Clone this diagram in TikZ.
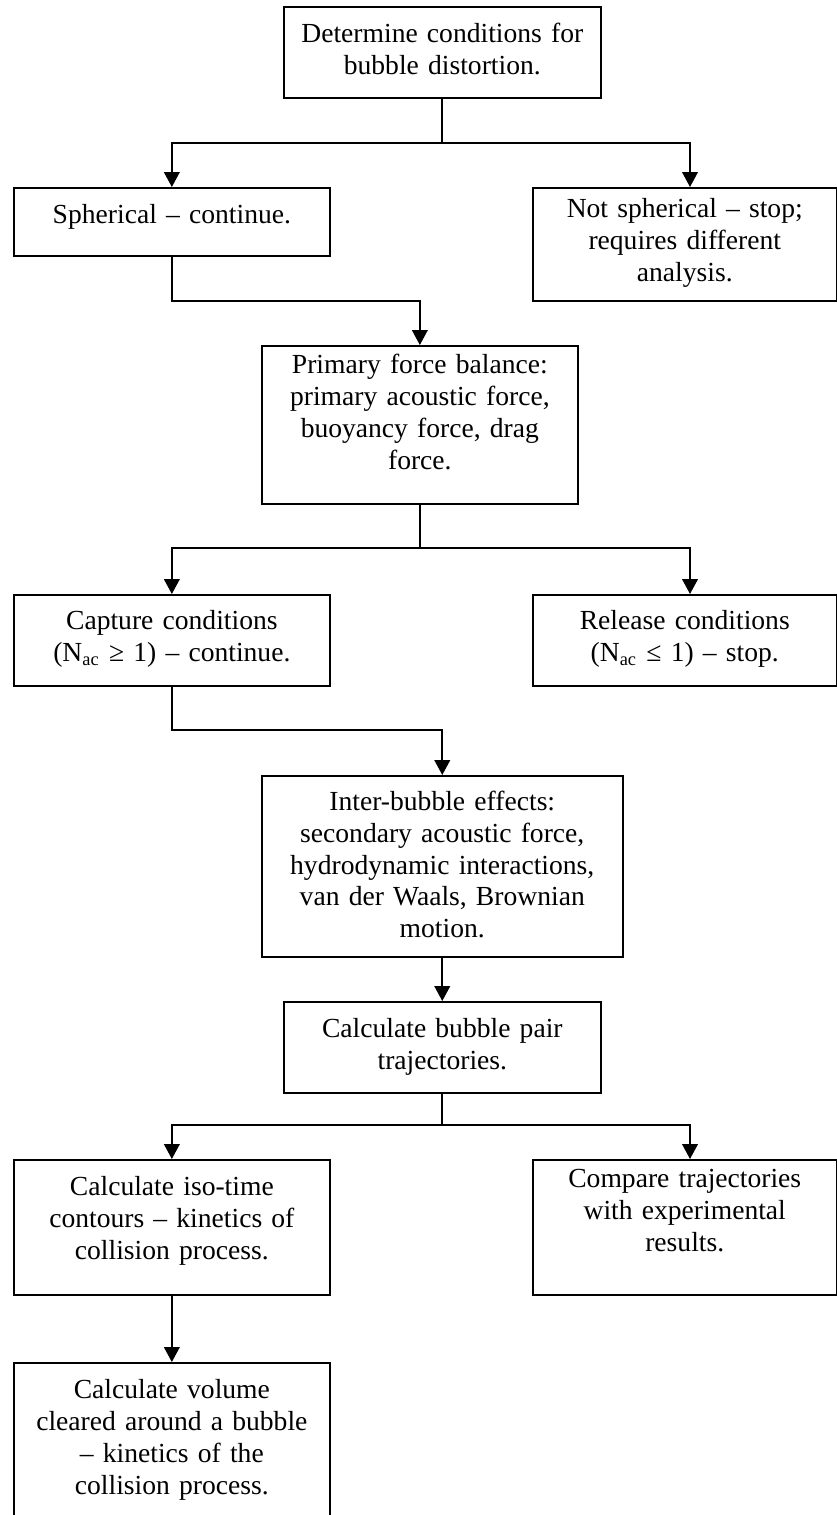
\documentclass[tikz,border=0pt,12pt]{standalone}
\usepackage{fontspec}
\setmainfont{Liberation Serif}
\usetikzlibrary{arrows.meta}

\begin{document}
\begin{tikzpicture}[
			x=0.435pt,
			y=-0.435pt,
			box/.style n args={3}{
				draw,
				line width=0.7pt,
				anchor=north west,
				inner xsep=4pt,
				inner ysep=0pt,
				align=center,
				font=\fontsize{12}{13.8}\selectfont,
				text width=#1,
				text height=#2,
				text depth=#3
			},
			link/.style={
				draw,
				line width=0.8pt
			},
			flow/.style={
				link,
				-{Triangle[length=6.5pt, width=6.8pt]}
			}
			]
			\useasboundingbox (0,0) rectangle (837,1515);
			\clip (0,0) rectangle (837,1515);
			
			% Boxes
			\node[box={129.9pt}{15.7pt}{23.9pt}] (distort) at (283,6) {Determine conditions for\\bubble distortion.};
			\node[box={129.5pt}{15.7pt}{13.9pt}] (sphere) at (13,187) {Spherical -- continue.};
			\node[box={124.2pt}{13.1pt}{36.1pt}] (nosphere) at (532,187) {Not spherical -- stop;\\requires different\\analysis.};
			\node[box={129.5pt}{12.2pt}{56.5pt}] (primary) at (261,345) {Primary force balance:\\primary acoustic force,\\buoyancy force, drag\\force.};
			\node[box={129.5pt}{15.2pt}{24.4pt}] (capture) at (13,594) {Capture conditions\\(N\textsubscript{ac} ≥ 1) -- continue.};
			\node[box={124.2pt}{15.2pt}{24.4pt}] (release) at (532,594) {Release conditions\\(N\textsubscript{ac} ≤ 1) -- stop.};
			\node[box={149.0pt}{15.2pt}{63.5pt}] (inter) at (261,775) {Inter-bubble effects:\\secondary acoustic force,\\hydrodynamic interactions,\\van der Waals, Brownian\\motion.};
			\node[box={129.9pt}{15.7pt}{23.9pt}] (traj) at (283,1001) {Calculate bubble pair\\trajectories.};
			\node[box={129.5pt}{15.7pt}{43.0pt}] (isotime) at (13,1159) {Calculate iso-time\\contours -- kinetics of\\collision process.};
			\node[box={124.2pt}{12.2pt}{46.5pt}] (compare) at (532,1159) {Compare trajectories\\with experimental\\results.};
			\node[box={129.5pt}{15.7pt}{62.6pt}] (volume) at (13,1362) {Calculate volume\\cleared around a bubble\\-- kinetics of the\\collision process.};
			
			% Junction levels
			\coordinate (lvl1) at (690,143);
			\coordinate (lvl2) at (0,301);
			\coordinate (lvl3) at (690,548);
			\coordinate (lvl4) at (0,730);
			\coordinate (lvl5) at (690,1125);
			
			% Connectors
			\path[flow] (distort.south) -- (distort.south |- lvl1) -| (sphere.north);
			\path[flow] (distort.south |- lvl1) -- (lvl1) -- (lvl1 |- nosphere.north);
			\path[flow] (sphere.south) -- (sphere.south |- lvl2) -| (primary.north);
			\path[flow] (primary.south) -- (primary.south |- lvl3) -| (capture.north);
			\path[flow] (primary.south |- lvl3) -- (lvl3) -- (lvl3 |- release.north);
			\path[flow] (capture.south) -- (capture.south |- lvl4) -| (inter.north);
			\path[flow] (inter.south) -- (inter.south |- traj.north);
			\path[flow] (traj.south) -- (traj.south |- lvl5) -| (isotime.north);
			\path[flow] (traj.south |- lvl5) -- (lvl5) -- (lvl5 |- compare.north);
			\path[flow] (isotime.south) -- (volume.north);
		\end{tikzpicture}
\end{document}
